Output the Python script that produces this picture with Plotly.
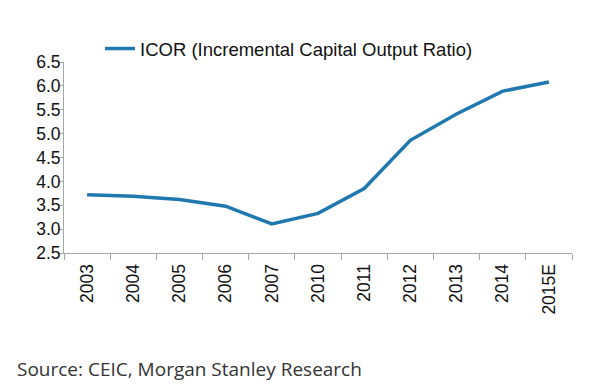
import plotly.graph_objects as go

categories = ["2003", "2004", "2005", "2006", "2007", "2010", "2011", "2012", "2013", "2014", "2015E"]
icor = [3.72, 3.69, 3.62, 3.48, 3.11, 3.33, 3.85, 4.86, 5.41, 5.89, 6.08]
y_ticks = [2.5, 3.0, 3.5, 4.0, 4.5, 5.0, 5.5, 6.0, 6.5]

# page body has an 8px margin, so the figure is drawn 8px smaller and offset
OFF = 8
W, H = 600 - OFF, 386 - OFF
L, T = 64 - OFF, 62 - OFF
R = W - (572 - OFF)
B = H - (253 - OFF)
pw = W - L - R
ph = H - T - B

fig = go.Figure()
fig.add_trace(go.Scatter(
    x=categories, y=icor, mode="lines",
    name="ICOR (Incremental Capital Output Ratio)",
    line=dict(color="#1f78b0", width=3.5),
))

fig.update_layout(
    width=W, height=H,
    margin=dict(l=L, r=R, t=T, b=B, autoexpand=False),
    paper_bgcolor="white", plot_bgcolor="white",
    font=dict(family="Liberation Sans, Arial, sans-serif", size=17, color="#111111"),
    showlegend=True,
    legend=dict(
        xref="container", yref="container",
        x=(100 - OFF) / W, y=1 - (49 - OFF) / H,
        xanchor="left", yanchor="middle",
        orientation="h",
        font=dict(size=18.5, color="#111111"),
        bgcolor="rgba(0,0,0,0)",
    ),
    xaxis=dict(
        type="category",
        range=[-0.5, len(categories) - 0.5],
        automargin=False,
        showline=True, linecolor="#a6a6a6", linewidth=1,
        ticks="outside", tickson="boundaries", ticklen=6, tickcolor="#a6a6a6",
        tickangle=-90, showgrid=False, zeroline=False,
        ticklabelstandoff=3,
        tickfont=dict(size=17.5, color="#111111"),
    ),
    yaxis=dict(
        range=[2.5, 6.5], tickvals=y_ticks,
        ticktext=[f"{v:.1f}" for v in y_ticks],
        automargin=False,
        showline=True, linecolor="#a6a6a6", linewidth=1,
        ticks="outside", ticklen=5, tickcolor="#a6a6a6",
        showgrid=False, zeroline=False,
        ticklabelstandoff=-6,
        tickfont=dict(size=17.5, color="#111111"),
    ),
    annotations=[dict(
        text="Source: CEIC, Morgan Stanley Research",
        xref="paper", yref="paper",
        x=(15 - OFF - L) / pw, y=-(369 - 253) / ph,
        xanchor="left", yanchor="middle",
        showarrow=False,
        font=dict(family="Open Sans, Noto Sans, sans-serif", size=19, color="#333333"),
    )],
)

fig.write_html("out.html")
